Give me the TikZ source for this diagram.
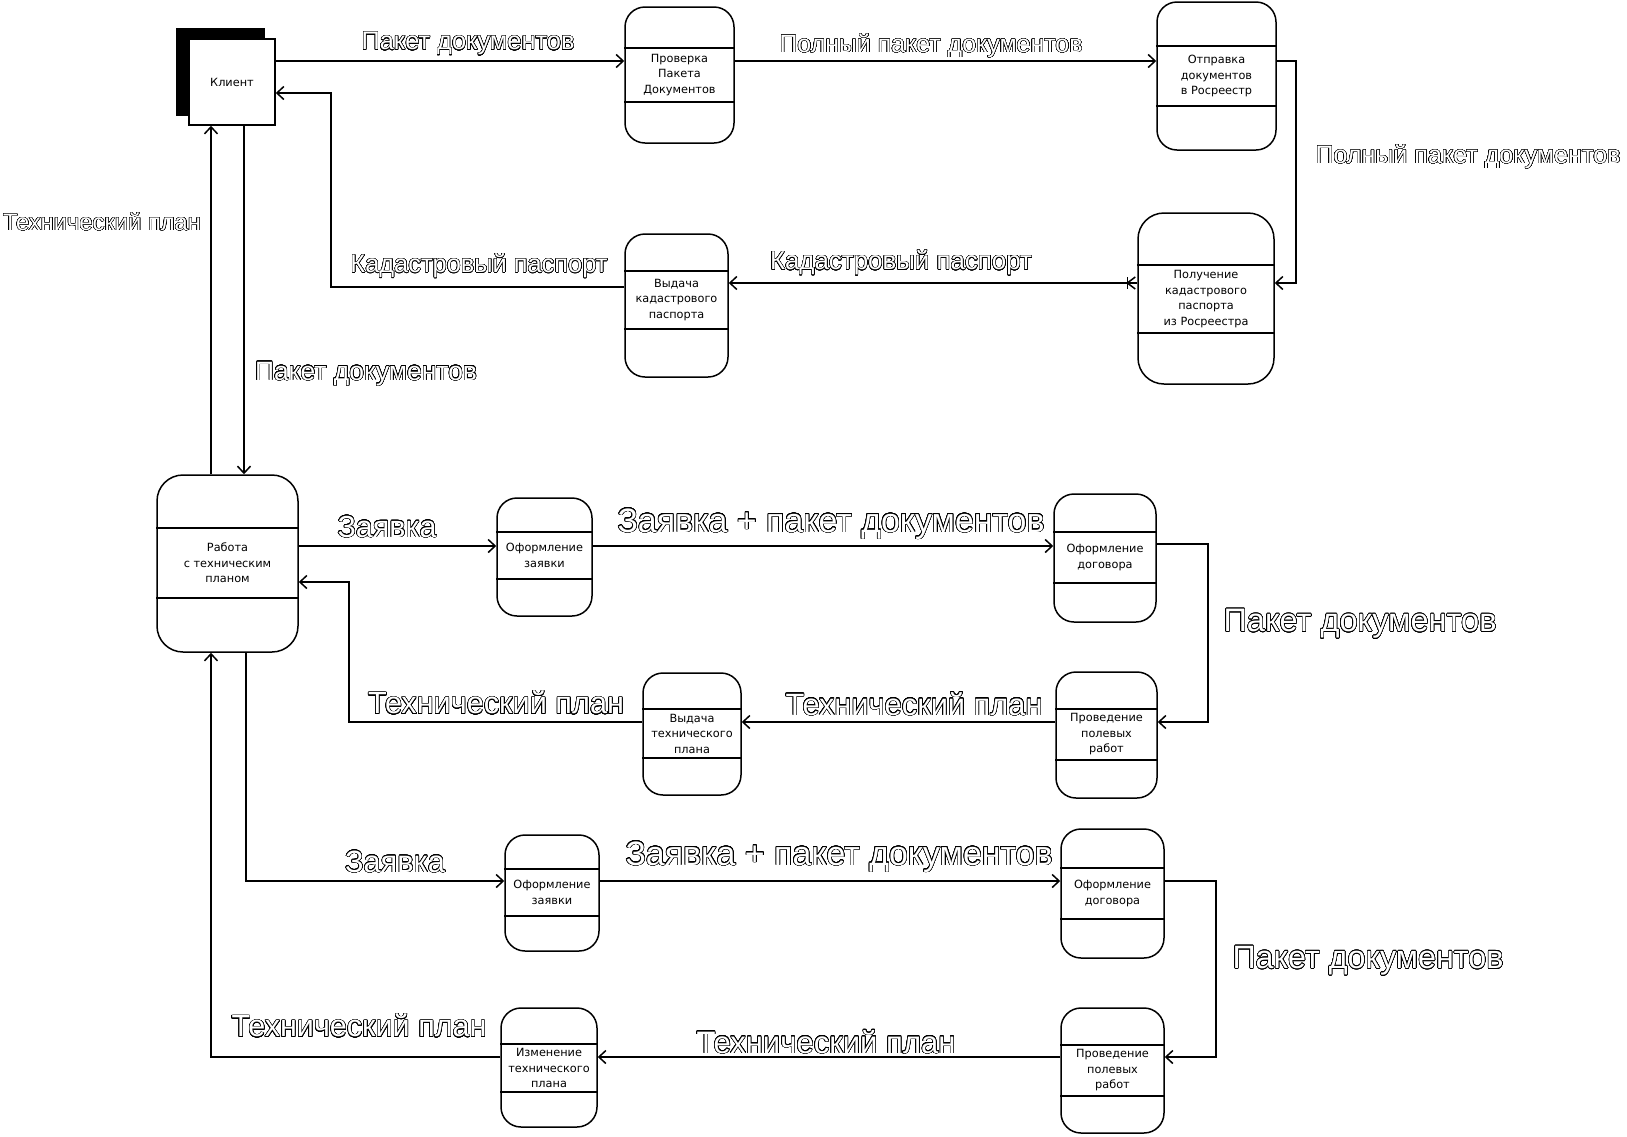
\documentclass[tikz,border=0pt]{standalone}
\usepackage{fontspec}
\setmainfont{Liberation Sans}
\newfontfamily\boxfont{DejaVu Sans}
\usepackage{graphicx}
\usepackage{contour}
\contourlength{0.5pt}
\contournumber{32}
\usetikzlibrary{arrows.meta,fit,calc}

\tikzset{
  ln/.style={line width=1.5pt},
  flow/.style={ln, -{Straight Barb[length=7pt,width=13pt]}},
  pbox/.style={draw, ln, rounded corners=#1, inner sep=0pt},
  pbox/.default=20pt,
  ptext/.style={font=\boxfont\fontsize{11.3}{15.5}\selectfont, align=center, inner sep=0pt},
  lbl/.style={inner sep=0pt, yshift=-4pt},
}
\newcommand\outl[2]{\resizebox{#1pt}{!}{\fontsize{28}{30}\selectfont\color{white}\contour{black}{#2}}}
\newcommand\procnode[9][20pt]{%
  \node[pbox=#1, fit={(#3,#4) (#5,#6)}] (#2) {};
  \draw[ln] (#2.west |- 0,#7) -- (#2.east |- 0,#7);
  \draw[ln] (#2.west |- 0,#8) -- (#2.east |- 0,#8);
  \node[ptext] (#2-t) at ($(#3,#7)!0.5!(#5,#8)$) {#9};
}

\begin{document}
\begin{tikzpicture}[x=1pt,y=-1pt]
\useasboundingbox[fill=white] (0,0) rectangle (1627,1136);

% client
\fill (176,28) rectangle (265,116);
\node[draw, ln, fill=white, fit={(189,39) (275,125)}, inner sep=0pt] (client) {};
\node[ptext] (client-t) at (client.center) {Клиент};

\procnode{check}{625}{7}{734}{143}{48}{102}{Проверка\\Пакета\\Документов}
\procnode{send}{1157}{2}{1276}{150}{46}{106}{Отправка\\документов\\в Росреестр}
\procnode[26pt]{recv}{1138}{213}{1274}{384}{265}{333}{Получение\\кадастрового\\паспорта\\из Росреестра}
\procnode{ipass}{625}{234}{728}{377}{271}{329}{Выдача\\кадастрового\\паспорта}
\procnode[26pt]{work}{157}{475}{298}{652}{528}{598}{Работа\\с техническим\\планом}
\procnode{app1}{497}{498}{592}{616}{532}{579}{Оформление\\заявки}
\procnode{con1}{1054}{494}{1156}{622}{532}{583}{Оформление\\договора}
\procnode{field1}{1056}{672}{1157}{798}{709}{760}{Проведение\\полевых\\работ}
\procnode{iplan}{643}{673}{741}{795}{709}{758}{Выдача\\технического\\плана}
\procnode{app2}{505}{835}{599}{951}{869}{916}{Оформление\\заявки}
\procnode{con2}{1061}{829}{1164}{958}{868}{919}{Оформление\\договора}
\procnode{field2}{1061}{1008}{1164}{1133}{1045}{1096}{Проведение\\полевых\\работ}
\procnode{change}{501}{1008}{597}{1127}{1044}{1092}{Изменение\\технического\\плана}

% connectors
\draw[flow] (client.east |- 0,61) -- (check.west |- 0,61);
\draw[flow] (check.east |- 0,61) -- (send.west |- 0,61);
\draw[flow] (send.east |- 0,61) -- (1296,61) -- (1296,283) -- (recv.east |- 0,283);
\draw[flow] (recv.west |- 0,283) -- (ipass.east |- 0,283);
\coordinate (mk) at ([xshift=-10pt]recv.west |- 0,283);
\draw[ln] ($(mk)+(0,-6)$) -- ($(mk)+(0,6)$);
\draw[ln] ($(mk)+(8,-6)$) -- (mk) -- ($(mk)+(8,6)$);
\draw[flow] (ipass.west |- 0,287) -- (331,287) -- (331,93) -- (client.east |- 0,93);
\draw[flow] (work.north -| 211,0) -- (client.south -| 211,0);
\draw[flow] (client.south -| 244,0) -- (work.north -| 244,0);

\draw[flow] (work.east |- 0,546) -- (app1.west |- 0,546);
\draw[flow] (app1.east |- 0,546) -- (con1.west |- 0,546);
\draw[flow] (con1.east |- 0,544) -- (1208,544) -- (1208,722) -- (field1.east |- 0,722);
\draw[flow] (field1.west |- 0,722) -- (iplan.east |- 0,722);
\draw[flow] (iplan.west |- 0,722) -- (349,722) -- (349,582) -- (work.east |- 0,582);

\draw[flow] (work.south -| 246,0) -- (246,881) -- (app2.west |- 0,881);
\draw[flow] (app2.east |- 0,881) -- (con2.west |- 0,881);
\draw[flow] (con2.east |- 0,881) -- (1216,881) -- (1216,1057) -- (field2.east |- 0,1057);
\draw[flow] (field2.west |- 0,1057) -- (change.east |- 0,1057);
\draw[flow] (change.west |- 0,1057) -- (211,1057) -- (work.south -| 211,0);

% labels
\node[lbl] (l1) at (468,40) {\outl{213}{Пакет документов}};
\node[lbl] (l2) at (931,42) {\outl{303}{Полный пакет документов}};
\node[lbl] (l3) at (1468,153) {\outl{305}{Полный пакет документов}};
\node[lbl] (l4) at (901,259) {\outl{262}{Кадастровый паспорт}};
\node[lbl] (l5) at (479,262) {\outl{257}{Кадастровый паспорт}};
\node[lbl] (l6) at (102,218) {\outl{198}{Технический план}};
\node[lbl] (l7) at (366,370) {\outl{222}{Пакет документов}};
\node[lbl] (l8) at (387,523) {\outl{99}{Заявка}};
\node[lbl] (l9) at (831,520) {\outl{427}{Заявка + пакет документов}};
\node[lbl] (l10) at (1360,620) {\outl{273}{Пакет документов}};
\node[lbl] (l11) at (914,700) {\outl{257}{Технический план}};
\node[lbl] (l12) at (496,699) {\outl{256}{Технический план}};
\node[lbl] (l13) at (395,858) {\outl{100}{Заявка}};
\node[lbl] (l14) at (839,853) {\outl{427}{Заявка + пакет документов}};
\node[lbl] (l15) at (1368,957) {\outl{271}{Пакет документов}};
\node[lbl] (l16) at (826,1038) {\outl{259}{Технический план}};
\node[lbl] (l17) at (359,1022) {\outl{255}{Технический план}};
\end{tikzpicture}
\end{document}
